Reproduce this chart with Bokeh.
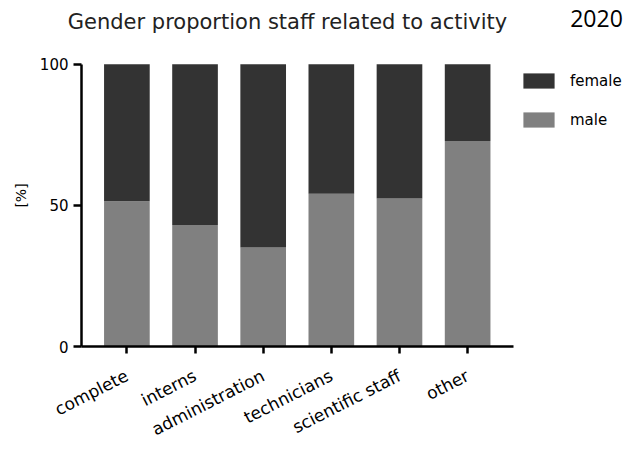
from bokeh.plotting import figure
from bokeh.models import ColumnDataSource, Legend, LegendItem, Label, FixedTicker
from bokeh.layouts import column
from bokeh.embed import file_html
from bokeh.resources import INLINE

categories = ["complete", "interns", "administration", "technicians", "scientific staff", "other"]
male = [51.5, 43.1, 35.1, 54.1, 52.5, 72.8]
female = [100 - m for m in male]
y_ticks = [0, 50, 100]
title_text = "Gender proportion staff related to activity"
year_text = "2020"

FONT = "DejaVu Sans"
W = 635
HEAD_H = 44
MAIN_H = 407

# ---- header with the title texts ----
head = figure(width=W, height=HEAD_H, output_backend="svg", toolbar_location=None,
              x_range=(0, W), y_range=(HEAD_H, 0),
              x_axis_location=None, y_axis_location=None,
              min_border_left=0, min_border_right=0, min_border_top=0, min_border_bottom=0)
head.frame_align = False
head.xgrid.visible = False
head.ygrid.visible = False
head.outline_line_color = None
head.add_layout(Label(x=287, y=21, text=title_text, text_font=FONT, text_font_size="21px",
                      text_color="#222222", text_align="center", text_baseline="middle"))
head.add_layout(Label(x=596, y=18, text=year_text, text_font="Open Sans", text_font_size="23px",
                      text_color="black", text_align="center", text_baseline="middle"))

# ---- main chart ----
xpos = list(range(len(categories)))
src = ColumnDataSource(data=dict(x=xpos, male=male, female=female))

p = figure(width=W, height=MAIN_H, output_backend="svg", toolbar_location=None,
           x_range=(-0.666, 7.39), y_range=(0, 107.04),
           min_border_left=81, min_border_right=5, min_border_top=0, min_border_bottom=103)

r = p.vbar_stack(["male", "female"], x="x", width=0.67, source=src,
                 color=["#808080", "#333333"], line_color=None)

p.xgrid.visible = False
p.ygrid.visible = False
p.outline_line_color = None

# y axis
p.yaxis.ticker = FixedTicker(ticks=y_ticks)
p.yaxis.bounds = (0, 100)
p.yaxis.minor_tick_line_color = None
p.yaxis.major_tick_out = 8
p.yaxis.major_tick_in = 0
p.yaxis.axis_line_width = 2.5
p.yaxis.major_tick_line_width = 2.5
p.yaxis.axis_line_color = "black"
p.yaxis.major_tick_line_color = "black"
p.yaxis.major_label_text_font = FONT
p.yaxis.major_label_text_font_size = "15px"
p.yaxis.major_label_text_color = "black"
p.yaxis.major_label_standoff = 5
p.yaxis.axis_label = "[%]"
p.yaxis.axis_label_text_font = FONT
p.yaxis.axis_label_text_font_size = "14px"
p.yaxis.axis_label_text_font_style = "normal"
p.yaxis.axis_label_text_color = "black"
p.yaxis.axis_label_standoff = 8

# x axis
p.xaxis.ticker = FixedTicker(ticks=xpos)
p.xaxis.major_label_overrides = {i: c for i, c in zip(xpos, categories)}
p.xaxis.bounds = (-0.666, 5.68)
p.xaxis.major_tick_out = 7
p.xaxis.major_tick_in = 0
p.xaxis.axis_line_width = 2.5
p.xaxis.major_tick_line_width = 2.5
p.xaxis.axis_line_color = "black"
p.xaxis.major_tick_line_color = "black"
p.xaxis.minor_tick_line_color = None
p.xaxis.major_label_orientation = 0.47
p.xaxis.major_label_text_font = FONT
p.xaxis.major_label_text_font_size = "17px"
p.xaxis.major_label_text_color = "black"
p.xaxis.major_label_standoff = 21

legend = Legend(items=[LegendItem(label="female", renderers=[r[1]]),
                       LegendItem(label="male", renderers=[r[0]])],
                location=(438, 217), orientation="vertical",
                glyph_width=39, glyph_height=19, label_height=19,
                label_standoff=12, spacing=20, padding=10, margin=0,
                border_line_color=None, background_fill_alpha=0,
                label_text_font=FONT, label_text_font_size="15px",
                label_text_color="black")
p.add_layout(legend, "center")

layout = column(head, p, spacing=0)
open("out.html", "w").write(file_html(layout, INLINE))
